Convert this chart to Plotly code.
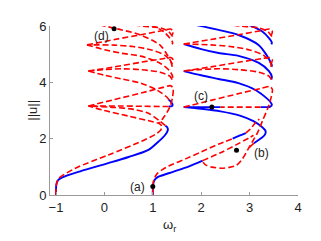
import plotly.graph_objects as go

# ---------------- data (omega_r, ||u||) ----------------
# right family
rb_base_x = [1.0, 1.0, 1.005, 1.02, 1.06, 1.12, 1.43, 1.75, 2.03]
rb_base_y = [0.0, 0.15, 0.32, 0.47, 0.58, 0.65, 0.83, 1.02, 1.22]
rr_base_x = [1.0, 1.0, 1.01, 1.04, 1.09, 1.2, 1.33, 1.7, 2.0, 2.35, 2.65]
rr_base_y = [0.0, 0.2, 0.45, 0.62, 0.76, 0.9, 1.03, 1.3, 1.53, 1.8, 2.0]
rb_piece_x = [2.65, 2.78, 2.92]
rb_piece_y = [2.0, 2.1, 2.2]
rr_piece_x = [2.92, 3.02, 3.1, 3.2]
rr_piece_y = [2.2, 2.35, 2.52, 2.7]
rr_mid_x = [2.03, 2.4, 2.71, 2.98, 3.08]
rr_mid_y = [1.22, 1.5, 1.77, 2.02, 2.12]
ru0_x = [1.64, 2.2, 2.8, 3.25, 3.42, 3.47, 3.45, 3.38, 3.27, 3.16, 3.06, 2.96, 2.85, 2.73, 2.58, 2.42, 2.22, 2.1, 2.05, 2.03]
ru0_y = [3.12, 3.36, 3.61, 3.79, 3.85, 3.75, 3.5, 3.1, 2.65, 2.2, 1.9, 1.6, 1.28, 1.06, 0.98, 0.95, 0.99, 1.06, 1.14, 1.22]
rb0_x = [1.64, 2.0, 2.4, 2.8, 3.08, 3.25, 3.33, 3.32, 3.25, 3.09]
rb0_y = [3.12, 3.06, 2.97, 2.82, 2.62, 2.42, 2.27, 2.15, 2.03, 1.84]
rr0t_x = [3.09, 3.0]
rr0t_y = [1.84, 1.7]
rb1_x = [1.64, 2.0, 2.36, 2.77, 3.13, 3.35, 3.43, 3.46, 3.43, 3.33, 3.23]
rb1_y = [4.40, 4.25, 4.12, 3.97, 3.72, 3.44, 3.3, 3.2, 3.14, 3.12, 3.12]
rr1h_x = [3.23, 2.4]
rr1h_y = [3.12, 3.12]
rb1h_x = [2.4, 1.64]
rb1h_y = [3.12, 3.12]
rb2_x = [1.64, 2.0, 2.36, 2.77, 3.19, 3.40, 3.46, 3.45]
rb2_y = [5.36, 5.18, 5.04, 4.94, 4.69, 4.40, 4.2, 4.1]
rr2_x = [3.45, 3.40, 3.19, 2.77, 2.36, 1.95, 1.64]
rr2_y = [4.1, 4.22, 4.36, 4.45, 4.48, 4.45, 4.40]
rb3_x = [1.88, 2.36, 2.77, 3.19, 3.35, 3.44, 3.46, 3.45]
rb3_y = [6.04, 5.86, 5.68, 5.32, 4.97, 4.69, 4.6, 4.55]
rr3_x = [3.45, 3.43, 3.3, 3.0, 2.6, 2.2, 1.64]
rr3_y = [4.55, 4.7, 4.95, 5.15, 5.27, 5.33, 5.36]
ru1_x = [1.64, 2.2, 2.8, 3.25, 3.42, 3.47, 3.45]
ru1_y = [4.40, 4.55, 4.72, 4.84, 4.88, 4.8, 4.68]
ru2_x = [1.64, 2.2, 2.8, 3.25, 3.42, 3.47, 3.45]
ru2_y = [5.36, 5.52, 5.70, 5.84, 5.89, 5.8, 5.68]
rb4_x = [2.98, 3.25, 3.40, 3.46, 3.45]
rb4_y = [6.04, 5.82, 5.57, 5.42, 5.35]
rr4_x = [3.46, 3.38, 3.2, 2.8, 2.36]
rr4_y = [5.62, 5.8, 5.93, 6.0, 6.1]

# left family
lb0_x = [-1.0, -1.0, -0.99, -0.96, -0.9, -0.5, 0.08, 0.5, 0.91, 1.12, 1.25, 1.31, 1.3, 1.26]
lb0_y = [0.0, 0.2, 0.4, 0.52, 0.6, 0.84, 1.13, 1.35, 1.6, 1.9, 2.12, 2.3, 2.4, 2.46]
lr0a_x = [1.26, 1.15, 0.91, 0.6, 0.2, -0.33]
lr0a_y = [2.46, 2.62, 2.9, 3.04, 3.11, 3.16]
lr0b_x = [-1.0, -1.0, -0.98, -0.95, -0.6, 0.08, 0.77, 1.05, 1.16, 1.19, 1.15, 1.0, 0.5, 0.0, -0.33]
lr0b_y = [0.0, 0.25, 0.45, 0.58, 0.95, 1.42, 1.91, 2.15, 2.3, 2.42, 2.52, 2.6, 2.8, 3.0, 3.16]
lu0_x = [-0.33, 0.21, 0.78, 1.21, 1.37, 1.42, 1.41, 1.37, 1.3, 1.2, 1.12]
lu0_y = [3.16, 3.39, 3.63, 3.82, 3.88, 3.78, 3.5, 3.2, 2.95, 2.7, 2.55]
lb1_x = [-0.33, 0.01, 0.36, 0.75, 1.09, 1.30, 1.33]
lb1_y = [4.40, 4.25, 4.12, 3.97, 3.72, 3.46, 3.38]
lhook_x = [1.33, 1.38, 1.41, 1.39, 1.33]
lhook_y = [3.38, 3.3, 3.2, 3.15, 3.14]
lr1h_x = [1.33, 0.8, 0.3, -0.33]
lr1h_y = [3.14, 3.15, 3.16, 3.16]
lb2_x = [-0.36, 0.0, 0.36, 0.75, 1.15, 1.35, 1.41, 1.40]
lb2_y = [5.33, 5.16, 5.03, 4.93, 4.68, 4.40, 4.2, 4.1]
lr2_x = [1.40, 1.35, 1.15, 0.75, 0.36, -0.03, -0.33]
lr2_y = [4.1, 4.22, 4.36, 4.45, 4.48, 4.45, 4.40]
lb3_x = [-0.10, 0.36, 0.75, 1.15, 1.30, 1.39, 1.41, 1.40]
lb3_y = [6.04, 5.86, 5.68, 5.32, 4.97, 4.69, 4.6, 4.55]
lr3_x = [1.40, 1.38, 1.26, 0.97, 0.59, 0.21, -0.36]
lr3_y = [4.55, 4.7, 4.95, 5.15, 5.27, 5.32, 5.33]
lu1_x = [-0.33, 0.21, 0.78, 1.21, 1.37, 1.42, 1.40]
lu1_y = [4.40, 4.55, 4.72, 4.84, 4.88, 4.8, 4.68]
lu2_x = [-0.36, 0.21, 0.78, 1.21, 1.37, 1.42, 1.40]
lu2_y = [5.33, 5.52, 5.70, 5.84, 5.89, 5.8, 5.68]
lb4_x = [0.95, 1.21, 1.35, 1.41, 1.40]
lb4_y = [6.04, 5.82, 5.57, 5.42, 5.35]
lr4_x = [1.41, 1.33, 1.16, 0.78, 0.36]
lr4_y = [5.62, 5.8, 5.93, 6.0, 6.1]

# marked points and labels
pt_names = ["(a)", "(b)", "(c)", "(d)"]
pt_x = [1.0, 2.73, 2.22, 0.2]
pt_y = [0.3, 1.59, 3.12, 5.9]
lab_x = [0.68, 3.25, 2.0, -0.07]
lab_y = [0.27, 1.48, 3.52, 5.65]

x_ticks = [-1, 0, 1, 2, 3, 4]
y_ticks = [0, 2, 4, 6]

BLUE = "rgb(0,0,255)"
RED = "rgb(255,0,0)"

solid = [
    (rb_base_x, rb_base_y), (rb_piece_x, rb_piece_y), (rb0_x, rb0_y), (rb1_x, rb1_y),
    (rb1h_x, rb1h_y), (rb2_x, rb2_y), (rb3_x, rb3_y), (rb4_x, rb4_y),
    (lb0_x, lb0_y), (lhook_x, lhook_y),
]
dashed = [
    (rr_base_x, rr_base_y), (rr_piece_x, rr_piece_y), (rr_mid_x, rr_mid_y), (ru0_x, ru0_y),
    (rr0t_x, rr0t_y), (rr1h_x, rr1h_y), (rr2_x, rr2_y), (rr3_x, rr3_y), (ru1_x, ru1_y),
    (ru2_x, ru2_y), (rr4_x, rr4_y),
    (lr0a_x, lr0a_y), (lr0b_x, lr0b_y), (lu0_x, lu0_y), (lb1_x, lb1_y), (lr1h_x, lr1h_y),
    (lb2_x, lb2_y), (lr2_x, lr2_y), (lb3_x, lb3_y), (lr3_x, lr3_y), (lu1_x, lu1_y),
    (lu2_x, lu2_y), (lb4_x, lb4_y), (lr4_x, lr4_y),
]

fig = go.Figure()
for xs, ys in solid:
    fig.add_trace(go.Scatter(x=xs, y=ys, mode="lines",
                             line=dict(color=BLUE, width=1.9, shape="spline", smoothing=0.8),
                             hoverinfo="skip"))
for xs, ys in dashed:
    fig.add_trace(go.Scatter(x=xs, y=ys, mode="lines",
                             line=dict(color=RED, width=1.6, dash="6px,3px", shape="spline", smoothing=0.8),
                             hoverinfo="skip"))
fig.add_trace(go.Scatter(x=pt_x, y=pt_y, mode="markers",
                         marker=dict(color="black", size=5), hoverinfo="skip"))

for name, lx, ly in zip(pt_names, lab_x, lab_y):
    fig.add_annotation(x=lx, y=ly, text=name, showarrow=False,
                       font=dict(size=12, color="#222222"))

fig.add_annotation(xref="paper", yref="paper", x=-0.11, y=0.5, text="||u||",
                   textangle=-90, showarrow=False, font=dict(size=13, color="#222222"))
fig.add_annotation(xref="paper", yref="paper", x=0.48, y=-0.12, yanchor="top",
                   text="ω<sub>r</sub>", showarrow=False,
                   font=dict(size=13, color="#222222"))

axis_common = dict(showgrid=False, zeroline=False, showline=True, linecolor="#9a9a9a",
                   linewidth=1, ticks="inside", ticklen=3, tickcolor="#9a9a9a",
                   tickfont=dict(size=13, color="#222222"), mirror=False, automargin=False)
fig.update_xaxes(range=[-1.124, 4.0], tickvals=x_ticks, **axis_common)
fig.update_yaxes(range=[0, 6], tickvals=y_ticks, **axis_common)

fig.update_layout(
    width=321, height=241, showlegend=False,
    margin=dict(l=42, r=31, t=18, b=54),
    paper_bgcolor="white", plot_bgcolor="white",
    font=dict(family="Liberation Sans, Arial, sans-serif"),
)
fig.write_html("out.html")
